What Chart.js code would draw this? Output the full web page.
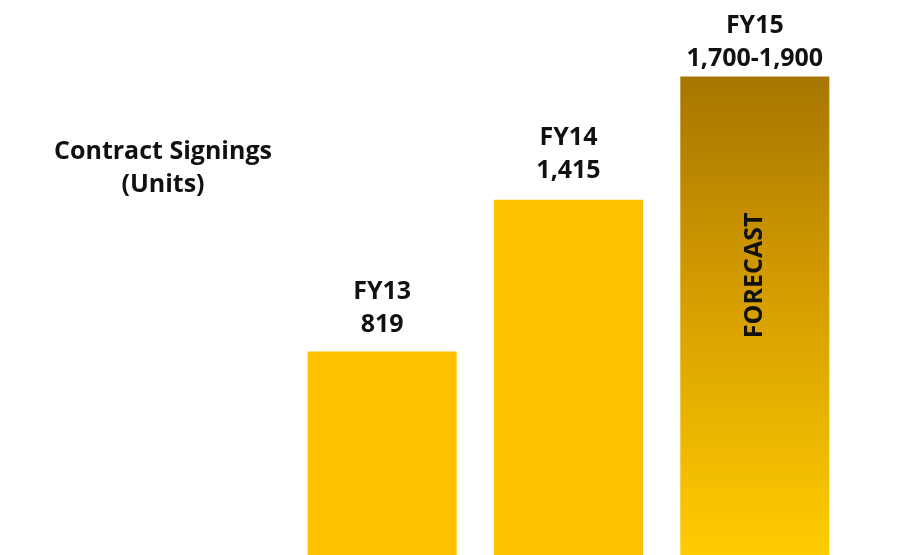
<!DOCTYPE html>
<html>
<head>
<meta charset="utf-8">
<title>Contract Signings</title>
<script src="https://cdn.jsdelivr.net/npm/chart.js@4.4.1/dist/chart.umd.min.js"></script>
<style>
    html, body { margin: 0; padding: 0; background: #fff; }
    #wrap { width: 921px; height: 555px; position: relative; }
</style>
</head>
<body>
<div id="wrap"><canvas id="signings_chart"></canvas></div>
<script>
var years = ['FY13', 'FY14', 'FY15'];
var signingsLow = [819, 1415, 1700];
var signingsHigh = [819, 1415, 1900];
var forecast = [false, false, true];
var titleLines = ['Contract Signings', '(Units)'];

var labelFont = '700 25px "Open Sans"';

function fmt(n){
    return n.toLocaleString('en-US');
}

function valueText(i){
    if(signingsLow[i] === signingsHigh[i]) return fmt(signingsHigh[i]);
    return fmt(signingsLow[i]) + '-' + fmt(signingsHigh[i]);
}

function barColor(ctx){
    var chart = ctx.chart;
    var area = chart.chartArea;
    var i = ctx.dataIndex;
    if(!forecast[i]) return '#ffc000';
    if(!area) return '#d49a00';
    var top = chart.scales.y.getPixelForValue(signingsHigh[i]);
    var g = chart.ctx.createLinearGradient(0, top, 0, area.bottom);
    g.addColorStop(0, '#a67600');
    g.addColorStop(0.42, '#d29a00');
    g.addColorStop(1, '#ffcc00');
    return g;
}

// year + value above every bar, FORECAST inside the projected one, side title
var barText = {
    id: 'barText',
    afterDatasetsDraw: function(chart){
        var c = chart.ctx;
        var meta = chart.getDatasetMeta(0);
        var gap = [20, 22, 10];
        c.save();
        c.fillStyle = '#111';
        c.font = labelFont;
        c.textAlign = 'center';
        c.textBaseline = 'alphabetic';
        meta.data.forEach(function(bar, i){
            var y = bar.y - gap[i];
            c.fillText(valueText(i), bar.x, y);
            c.fillText(years[i], bar.x, y - 33);
            if(forecast[i]){
                c.save();
                c.translate(bar.x, bar.y + 199);
                c.rotate(-Math.PI / 2);
                c.textBaseline = 'middle';
                c.fillText('FORECAST', 0, 0);
                c.restore();
            }
        });
        c.fillText(titleLines[0], 163, 159);
        c.fillText(titleLines[1], 163, 192);
        c.restore();
    }
};

new Chart(document.getElementById('signings_chart').getContext('2d'), {
    type: 'bar',
    data: {
        labels: years,
        datasets: [{
            label: 'Contract Signings',
            data: signingsHigh,
            backgroundColor: barColor,
            borderWidth: 0,
            barPercentage: 0.8,
            categoryPercentage: 1
        }]
    },
    options: {
        responsive: true,
        maintainAspectRatio: false,
        animation: false,
        layout: { padding: { left: 289, right: 73, top: 0, bottom: 0 } },
        scales: {
            x: { display: false },
            y: { display: false, min: 20, max: 2200 }
        },
        plugins: {
            legend: { display: false },
            tooltip: { enabled: false }
        }
    },
    plugins: [barText]
});
</script>
</body>
</html>
